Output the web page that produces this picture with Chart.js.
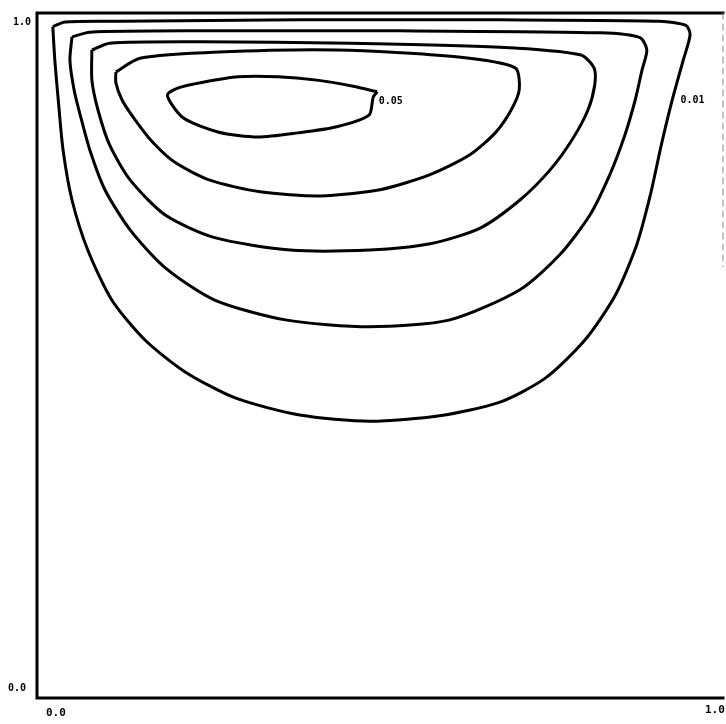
<!DOCTYPE html>
<html>
<head>
<meta charset="utf-8">
<script src="https://cdn.jsdelivr.net/npm/chart.js@4"></script>
<style>
  html, body { margin: 0; padding: 0; background: #fff; }
  .wrap { width: 726px; height: 724px; position: relative; }
</style>
</head>
<body>
<div class="wrap"><canvas id="myChart"></canvas></div>
<script>
// stream function contour levels, outer to inner
const levels = ['0.01', '0.02', '0.03', '0.04', '0.05'];

// contour 0.01
const c1x = [0.023, 0.026, 0.031, 0.038, 0.051, 0.074, 0.109, 0.157, 0.216, 0.289, 0.383, 0.485, 0.587, 0.675, 0.741, 0.799, 0.843, 0.874, 0.894, 0.910, 0.926, 0.942, 0.952, 0.946, 0.908, 0.675, 0.383, 0.121, 0.041, 0.023];
const c1y = [0.980, 0.931, 0.873, 0.800, 0.727, 0.654, 0.581, 0.523, 0.476, 0.438, 0.413, 0.404, 0.412, 0.432, 0.467, 0.523, 0.588, 0.661, 0.734, 0.807, 0.873, 0.931, 0.968, 0.982, 0.988, 0.990, 0.990, 0.988, 0.987, 0.980];

// contour 0.02
const c2x = [0.051, 0.048, 0.054, 0.063, 0.077, 0.099, 0.136, 0.187, 0.259, 0.362, 0.485, 0.602, 0.704, 0.762, 0.806, 0.835, 0.857, 0.872, 0.882, 0.889, 0.879, 0.821, 0.529, 0.238, 0.077, 0.051];
const c2y = [0.965, 0.931, 0.888, 0.851, 0.800, 0.742, 0.683, 0.628, 0.581, 0.552, 0.542, 0.552, 0.596, 0.647, 0.705, 0.764, 0.822, 0.873, 0.917, 0.946, 0.964, 0.971, 0.974, 0.974, 0.972, 0.965];

// contour 0.03
const c3x = [0.080, 0.080, 0.089, 0.106, 0.136, 0.187, 0.259, 0.369, 0.485, 0.573, 0.646, 0.704, 0.748, 0.780, 0.803, 0.813, 0.812, 0.792, 0.675, 0.456, 0.238, 0.106, 0.080];
const c3y = [0.946, 0.902, 0.858, 0.807, 0.756, 0.705, 0.672, 0.654, 0.654, 0.663, 0.686, 0.727, 0.771, 0.815, 0.858, 0.895, 0.920, 0.939, 0.950, 0.956, 0.958, 0.956, 0.946];

// contour 0.04
const c4x = [0.115, 0.115, 0.124, 0.143, 0.168, 0.201, 0.252, 0.325, 0.413, 0.500, 0.573, 0.631, 0.668, 0.691, 0.703, 0.697, 0.611, 0.437, 0.265, 0.150, 0.115];
const c4y = [0.914, 0.898, 0.873, 0.844, 0.812, 0.782, 0.756, 0.739, 0.733, 0.742, 0.764, 0.793, 0.825, 0.858, 0.888, 0.920, 0.936, 0.946, 0.943, 0.934, 0.914];

// contour 0.05 (inner)
const c5x = [0.496, 0.490, 0.484, 0.437, 0.380, 0.322, 0.265, 0.213, 0.190, 0.207, 0.242, 0.293, 0.351, 0.408, 0.461, 0.496];
const c5y = [0.885, 0.877, 0.851, 0.834, 0.825, 0.819, 0.826, 0.847, 0.880, 0.891, 0.899, 0.907, 0.907, 0.902, 0.893, 0.885];

// where the two labelled levels carry their text
const labelText = ['0.05', '0.01'];
const labelX = [0.498, 0.938];
const labelY = [0.871, 0.872];

const tickValues = [0, 1];
const tickText = ['0.0', '1.0'];

const contourX = [c1x, c2x, c3x, c4x, c5x];
const contourY = [c1y, c2y, c3y, c4y, c5y];

function toPoints(xs, ys) {
    return xs.map((x, i) => ({ x: x, y: ys[i] }));
}

const datasets = levels.map((lvl, i) => ({
    label: lvl,
    data: toPoints(contourX[i], contourY[i]),
    showLine: true,
    borderColor: '#000',
    borderWidth: 3,
    pointRadius: 0,
    tension: 0.25,
    fill: false,
    clip: false
}));

// frame: left axis, bottom axis, lid on top, faint right wall
const framePlugin = {
    id: 'frame',
    afterDatasetsDraw: (chart) => {
        const { ctx, scales: { x, y } } = chart;
        const l = x.getPixelForValue(0), r = x.getPixelForValue(1);
        const t = y.getPixelForValue(1), b = y.getPixelForValue(0);
        ctx.save();
        ctx.strokeStyle = '#000';
        ctx.lineWidth = 3;
        ctx.lineCap = 'square';
        ctx.beginPath();
        ctx.moveTo(l, t);
        ctx.lineTo(l, b);
        ctx.lineTo(r, b);
        ctx.moveTo(l, t);
        ctx.lineTo(r, t);
        ctx.stroke();

        ctx.strokeStyle = '#888';
        ctx.lineWidth = 1;
        ctx.setLineDash([6, 5]);
        ctx.beginPath();
        ctx.moveTo(r, t);
        ctx.lineTo(r, y.getPixelForValue(0.63));
        ctx.stroke();
        ctx.restore();
    }
};

// tick labels and contour labels
const labelPlugin = {
    id: 'labels',
    afterDraw: (chart) => {
        const { ctx, scales: { x, y } } = chart;
        ctx.save();
        ctx.fillStyle = '#000';
        ctx.font = 'bold 10px "DejaVu Sans Mono"';
        ctx.textBaseline = 'middle';

        // y ticks, left of the axis
        ctx.textAlign = 'right';
        ctx.fillText(tickText[1], x.getPixelForValue(0) - 6, y.getPixelForValue(tickValues[1]) + 9);
        ctx.fillText(tickText[0], x.getPixelForValue(0) - 11, y.getPixelForValue(tickValues[0]) - 10);

        // x ticks, under the axis
        ctx.textAlign = 'left';
        ctx.font = 'bold 11px "DejaVu Sans Mono"';
        ctx.fillText(tickText[0], x.getPixelForValue(tickValues[0]) + 9, y.getPixelForValue(0) + 15);
        ctx.fillText(tickText[1], x.getPixelForValue(tickValues[1]) - 18, y.getPixelForValue(0) + 12);

        ctx.font = 'bold 10px "DejaVu Sans Mono"';
        labelText.forEach((txt, i) => {
            ctx.fillText(txt, x.getPixelForValue(labelX[i]), y.getPixelForValue(labelY[i]));
        });
        ctx.restore();
    }
};

const config = {
    type: 'scatter',
    data: { datasets: datasets },
    options: {
        responsive: true,
        maintainAspectRatio: false,
        animation: false,
        layout: {
            padding: { left: 37, right: 3, top: 13, bottom: 26 }
        },
        scales: {
            x: { type: 'linear', min: 0, max: 1, display: false },
            y: { type: 'linear', min: 0, max: 1, display: false }
        },
        plugins: {
            legend: { display: false },
            tooltip: { enabled: false }
        }
    },
    plugins: [framePlugin, labelPlugin]
};

new Chart(document.getElementById('myChart'), config);
</script>
</body>
</html>
